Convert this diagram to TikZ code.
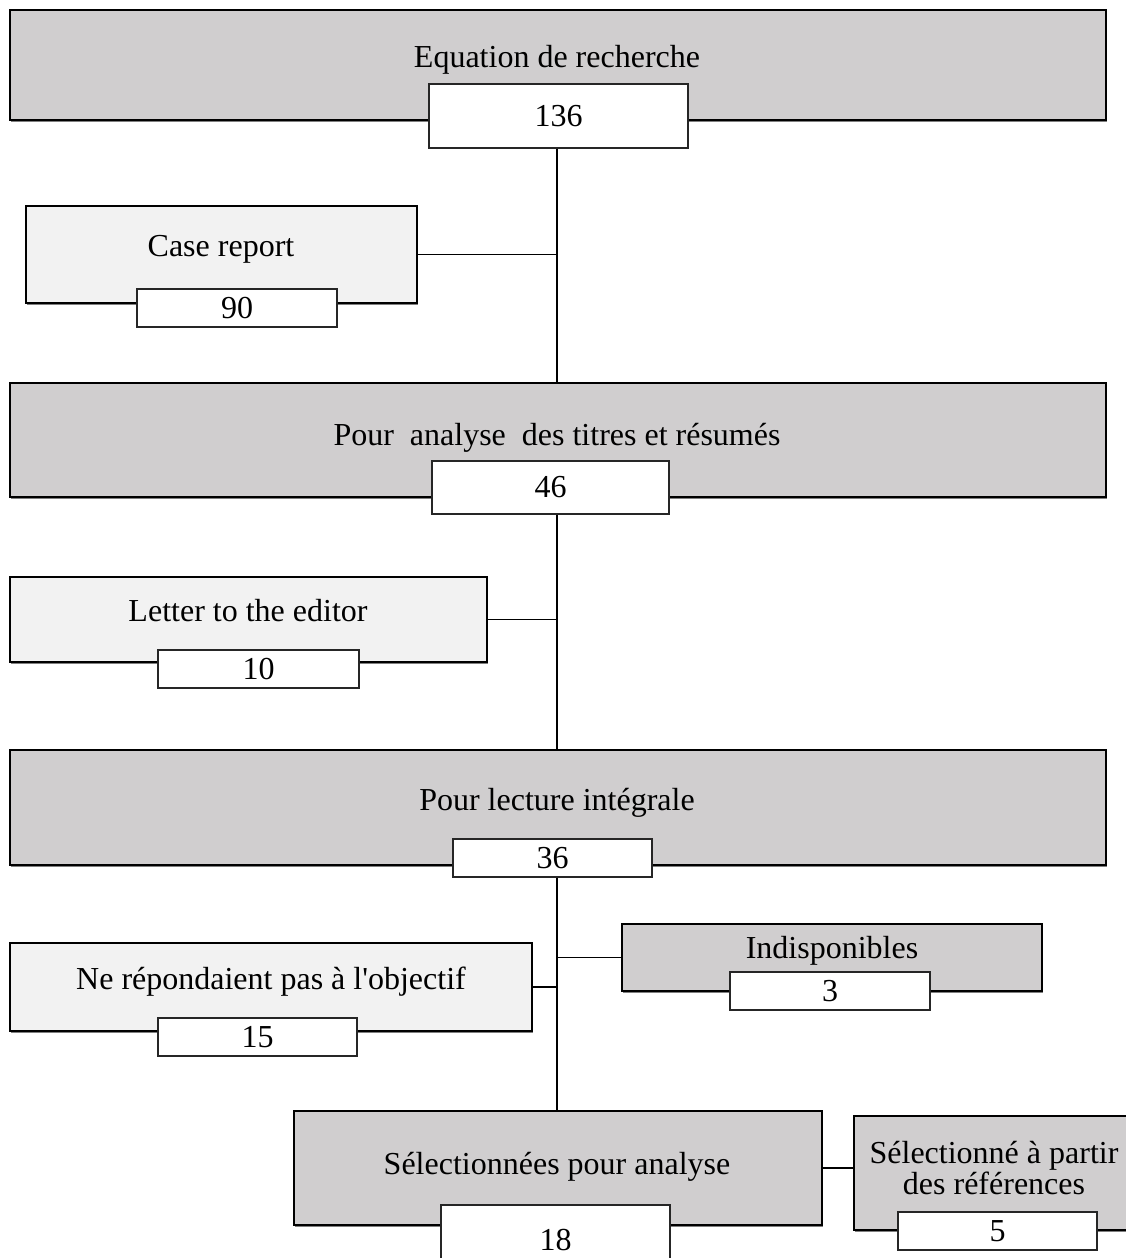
\documentclass[tikz,border=0pt]{standalone}
\usepackage{fontspec}
\setmainfont{Liberation Serif}[Ligatures=TeXOff]
\usetikzlibrary{shadows}
\newcommand\diagfont{\fontsize{32}{31}\selectfont}
\definecolor{boxgray}{RGB}{208,206,207}
\definecolor{boxlight}{RGB}{242,242,242}
\tikzset{
  boxshadow/.style={drop shadow={shadow xshift=1pt, shadow yshift=-1.5pt, opacity=0.5, fill=black}},
  mainbox/.style={draw=black, line width=1.6pt, fill=boxgray, rectangle, inner sep=0pt, boxshadow},
  sidebox/.style={draw=black, line width=1.6pt, fill=boxlight, rectangle, inner sep=0pt, boxshadow},
  numbox/.style={draw=black!85, line width=1.2pt, fill=white, rectangle, inner sep=0pt, font=\diagfont},
  lbl/.style={inner sep=0pt, font=\diagfont, text height=0.7em, text depth=0.25em},
  link/.style={draw=black, line width=1.2pt},
  boldlink/.style={draw=black, line width=2pt},
}
\begin{document}
\begin{tikzpicture}[x=1pt,y=-1pt]
\useasboundingbox (0,0) rectangle (1126,1258);
\clip (0,0) rectangle (1126,1258);
\coordinate (trunk) at (557,0);

% Equation de recherche
\node[mainbox, minimum width=1096pt, minimum height=110pt] (A) at (558,65) {};
\node[lbl] (At) at (557,65) {Equation de recherche};
\node[numbox, minimum width=259pt, minimum height=64pt] (An) at (558.5,116) {136};

% Case report
\node[sidebox, minimum width=391pt, minimum height=97pt] (cr) at (221.5,254.5) {};
\node[lbl] (crt) at (221,254) {Case report};
\node[numbox, minimum width=200pt, minimum height=38pt] (crn) at (237,308) {90};

% Pour analyse des titres et resumes
\node[mainbox, minimum width=1096pt, minimum height=114pt] (B) at (558,440) {};
\node[lbl] (Bt) at (557,443) {Pour\ \ analyse\ \ des titres et résumés};
\node[numbox, minimum width=237pt, minimum height=53pt] (Bn) at (550.5,487.5) {46};

% Letter to the editor
\node[sidebox, minimum width=477pt, minimum height=85pt] (le) at (248.5,619.5) {};
\node[lbl] (let) at (248,619) {Letter to the editor};
\node[numbox, minimum width=201pt, minimum height=38pt] (len) at (258.5,669) {10};

% Pour lecture integrale
\node[mainbox, minimum width=1096pt, minimum height=115pt] (C) at (558,807.5) {};
\node[lbl] (Ct) at (557,808) {Pour lecture intégrale};
\node[numbox, minimum width=199pt, minimum height=38pt] (Cn) at (552.5,858) {36};

% Ne repondaient pas
\node[sidebox, minimum width=522pt, minimum height=88pt] (ne) at (271,987) {};
\node[lbl] (net) at (271,987) {Ne répondaient pas à l'objectif};
\node[numbox, minimum width=199pt, minimum height=38pt] (nen) at (257.5,1037) {15};

% Indisponibles
\node[mainbox, minimum width=420pt, minimum height=67pt] (ind) at (832,957.5) {};
\node[lbl] (indt) at (832,956) {Indisponibles};
\node[numbox, minimum width=200pt, minimum height=38pt] (indn) at (830,991) {3};

% Selectionnees pour analyse
\node[mainbox, minimum width=528pt, minimum height=114pt] (D) at (558,1168) {};
\node[lbl] (Dt) at (557,1172) {Sélectionnées pour analyse};
\node[numbox, minimum width=229pt, minimum height=70pt] (Dn) at (555.5,1240) {18};

% Selectionne a partir des references
\node[mainbox, minimum width=280pt, minimum height=114pt] (E) at (994,1173) {};
\node[inner sep=0pt, font=\diagfont, align=center] (Et) at (994,1168) {Sélectionné à partir\\des références};
\node[numbox, minimum width=199pt, minimum height=38pt] (En) at (997.5,1231) {5};

% connectors
\draw[link] (An.south -| trunk) -- (B.north -| trunk);
\draw[link] (Bn.south -| trunk) -- (C.north -| trunk);
\draw[link] (Cn.south -| trunk) -- (D.north -| trunk);
\draw[link] (cr.east) -- (cr.east -| trunk);
\draw[link] (le.east) -- (le.east -| trunk);
\draw[link] (ne.east) -- (ne.east -| trunk);
\draw[link] (ind.west -| trunk) -- (ind.west);
\draw[boldlink] (D.east) -- (D.east -| E.west);
\end{tikzpicture}
\end{document}
